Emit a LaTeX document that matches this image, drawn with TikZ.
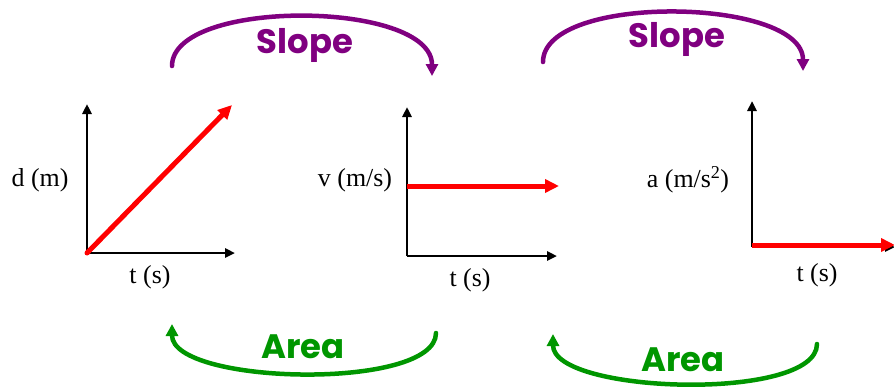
\documentclass[tikz,border=0pt]{standalone}
\usepackage{fontspec}
\setmainfont{Liberation Serif}
\newfontfamily\slopefont{Poppins}
\usetikzlibrary{arrows.meta}
\definecolor{arcpurple}{RGB}{128,0,128}
\definecolor{arcgreen}{RGB}{0,150,0}
\tikzset{
  axis/.style={line width=2.8bp, black, -{Triangle[length=10bp,width=9bp]}},
  redline/.style={line width=5bp, red, -{Triangle[length=14bp,width=13bp]}},
  slopearc/.style={line width=4.5bp, arcpurple, line cap=round, -{Triangle[length=12bp,width=12bp]}},
  areaarc/.style={line width=4.5bp, arcgreen, line cap=round, -{Triangle[length=12bp,width=12bp]}},
  axlabel/.style={font=\fontsize{26}{30}\selectfont, inner sep=0pt},
  biglabel/.style={font=\slopefont\bfseries\fontsize{34}{40}\selectfont, inner sep=0pt},
}
\begin{document}
\begin{tikzpicture}[x=1bp,y=-1bp]
\useasboundingbox (0,0) rectangle (894,389);
% graph 1
\coordinate (O1) at (87,253);
\coordinate (Y1) at (87,104);
\coordinate (X1) at (235,253);
\coordinate (R1) at (232,105);
\draw[axis] (O1) -- (Y1);
\draw[axis] (O1) -- (X1);
\draw[redline, line cap=round] (O1) -- (R1);
\node[axlabel] (d) at (40,180) {d (m)};
\node[axlabel] (t1) at (150,277) {t (s)};
% graph 2
\coordinate (O2) at (407,256);
\coordinate (Y2) at (407,107);
\coordinate (X2) at (557,256);
\coordinate (S2) at (407,186);
\coordinate (R2) at (559,186);
\draw[axis] (O2) -- (Y2);
\draw[axis] (O2) -- (X2);
\draw[redline] (S2) -- (R2);
\node[axlabel] (v) at (355,180) {v (m/s)};
\node[axlabel] (t2) at (470,280) {t (s)};
% graph 3
\coordinate (O3) at (752,247);
\coordinate (Y3) at (752,101);
\coordinate (X3) at (895,247);
\coordinate (S3) at (752,245);
\coordinate (R3) at (895,245);
\draw[axis] (O3) -- (Y3);
\draw[axis] (O3) -- (X3);
\draw[redline] (S3) -- (R3);
\node[axlabel] (a) at (688,180) {a (m/s\textsuperscript{2})};
\node[axlabel] (t3) at (817,275) {t (s)};
% slope arcs
\coordinate (SA1) at (172,66);
\coordinate (SB1) at (432,76);
\draw[slopearc] (SA1) .. controls (172,-2) and (432,0) .. (SB1);
\node[biglabel, text=arcpurple] (slope1) at (305,45) {Slope};
\coordinate (SA2) at (543,62);
\coordinate (SB2) at (803,71);
\draw[slopearc] (SA2) .. controls (543,-7) and (803,-3) .. (SB2);
\node[biglabel, text=arcpurple] (slope2) at (677,39) {Slope};
% area arcs
\coordinate (AA1) at (436,333);
\coordinate (AB1) at (172,324);
\draw[areaarc] (AA1) .. controls (436,391) and (172,385) .. (AB1);
\node[biglabel, text=arcgreen] (area1) at (303,347) {Area};
\coordinate (AA2) at (817,344);
\coordinate (AB2) at (553,334);
\draw[areaarc] (AA2) .. controls (817,402) and (553,394) .. (AB2);
\node[biglabel, text=arcgreen] (area2) at (683,360) {Area};
\end{tikzpicture}
\end{document}
